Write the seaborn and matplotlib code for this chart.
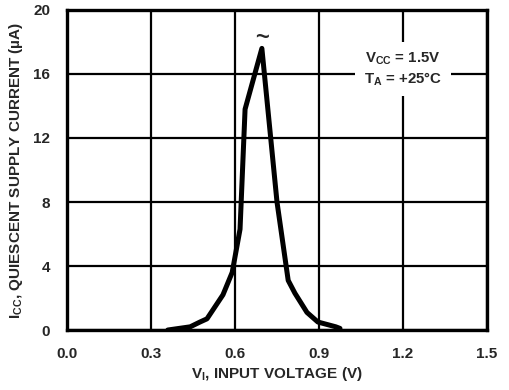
import matplotlib
matplotlib.use("Agg")
import matplotlib.pyplot as plt
import seaborn as sns
import pandas as pd

# curve
v_in = [0.36, 0.44, 0.475, 0.50, 0.557, 0.59, 0.618, 0.636, 0.696, 0.75, 0.79, 0.814, 0.857, 0.896, 0.96, 0.975]
i_cc = [0.0, 0.2, 0.5, 0.7, 2.2, 3.6, 6.3, 13.8, 17.6, 8.0, 3.1, 2.3, 1.1, 0.5, 0.2, 0.1]
x_ticks = [0.0, 0.3, 0.6, 0.9, 1.2, 1.5]
y_ticks = [0, 4, 8, 12, 16, 20]

sns.set_style("white")
plt.rcParams['font.family'] = ['Liberation Sans', 'DejaVu Sans']
plt.rcParams['font.weight'] = 'bold'
plt.rcParams['mathtext.fontset'] = 'custom'
plt.rcParams['mathtext.rm'] = 'Liberation Sans:bold'

fig = plt.figure(figsize=(5.09, 3.9), dpi=100)
ax = fig.add_axes([0.1316, 0.1538, 0.8252, 0.8206])

df = pd.DataFrame({'v': v_in, 'i': i_cc})
sns.lineplot(data=df, x='v', y='i', ax=ax, color='black', linewidth=3.6,
             sort=False, solid_joinstyle='round', zorder=3)
# tilde at the top of the peak
ax.text(v_in[8], i_cc[8] + 0.7, '~', ha='center', va='center', fontsize=17,
        fontweight='bold', zorder=4)

ax.set_xlim(0, 1.5)
ax.set_ylim(0, 20)
ax.set_xticks(x_ticks)
ax.set_xticklabels(['%.1f' % t for t in x_ticks])
ax.set_yticks(y_ticks)
ax.set_yticklabels([str(t) for t in y_ticks])
ax.grid(True, color='black', linewidth=1.6)
ax.tick_params(length=0, labelsize=11, pad=12)
for lab in ax.get_xticklabels() + ax.get_yticklabels():
    lab.set_fontweight('bold')
for s in ax.spines.values():
    s.set_color('black')
    s.set_linewidth(2.4)
    s.set_zorder(5)

ax.set_xlabel(r'$\mathregular{V_I}$, INPUT VOLTAGE (V)', fontsize=11, fontweight='bold', labelpad=3)
ax.set_ylabel(r'$\mathregular{I_{CC}}$, QUIESCENT SUPPLY CURRENT (µA)', fontsize=11,
              fontweight='bold', labelpad=6)

ax.text(1.2, 16.3, r'$\mathregular{V_{CC}}$ = 1.5V' + '\n' + r'$\mathregular{T_A}$ = +25°C',
        ha='center', va='center', fontsize=10.8, fontweight='bold', linespacing=1.3,
        bbox=dict(facecolor='white', edgecolor='none', pad=6), zorder=4)

fig.savefig('out.png', dpi=100)
